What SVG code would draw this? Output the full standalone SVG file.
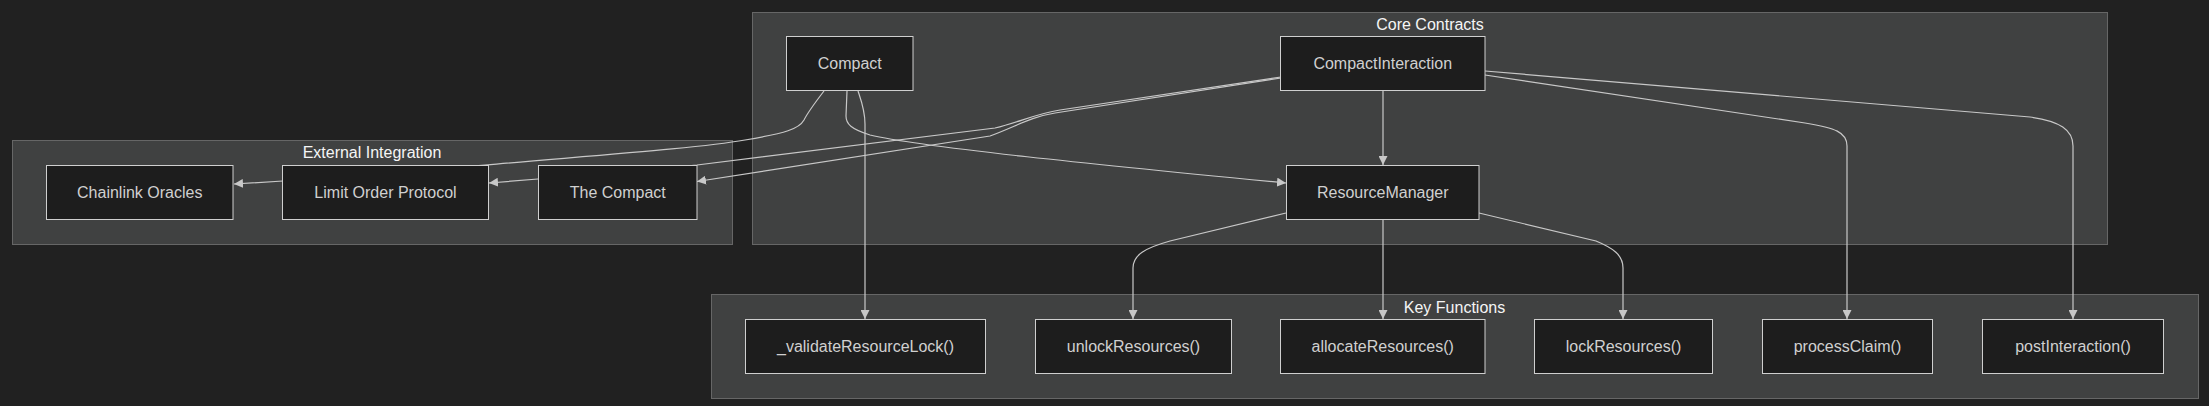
<svg xmlns="http://www.w3.org/2000/svg" width="2209" height="406" viewBox="0 0 2209 406">
<style>
.cluster{fill:#404141;stroke:#666;stroke-width:1}
.ctitle{fill:#f5f5f5;font-family:"Liberation Sans",Arial,sans-serif;font-size:16px;text-anchor:middle}
.node rect{fill:#1d1d1d;stroke:#cfcfcf;stroke-width:1}
.node text{fill:#d0d0d0;font-family:"Liberation Sans",Arial,sans-serif;font-size:16px;text-anchor:middle}
.edge{fill:none;stroke:#c8c8c8;stroke-width:1.2;marker-end:url(#arrow)}
</style>
<defs>
<marker id="arrow" viewBox="0 0 10 10" refX="10" refY="5" markerWidth="9" markerHeight="9" markerUnits="userSpaceOnUse" orient="auto">
<path d="M0,0 L10,5 L0,10 z" fill="#c8c8c8"/>
</marker>
</defs>
<rect x="0" y="0" width="2209" height="406" fill="#212121"/>
<g id="clusters">
<g id="cluster-external"><rect class="cluster" x="12.5" y="140.5" width="720" height="104"/><text class="ctitle" x="372" y="158">External Integration</text></g>
<g id="cluster-core"><rect class="cluster" x="752.5" y="12.5" width="1355" height="232"/><text class="ctitle" x="1430" y="30">Core Contracts</text></g>
<g id="cluster-key"><rect class="cluster" x="711.5" y="294.5" width="1487" height="104"/><text class="ctitle" x="1454.5" y="312.5">Key Functions</text></g>
</g>
<g id="connectors">
<path class="edge" d="M824,91 C814,104 808,112 804,120 C799,129 786,133 745,140 C700,148 600,155 485,165 L283,181 L234,184"/>
<path class="edge" d="M858,91 C861,100 865,110 865,124 L865,319"/>
<path class="edge" d="M847,91 L846,116 C846,124 851,129 870,135 C920,147 1100,165 1286,183"/>
<path class="edge" d="M1281,77 L1060,110 C1035,114 1020,122 995,128 L697,165 L538,179 L489,183"/>
<path class="edge" d="M1281,78 L1055,113 C1030,117 1015,127 990,136 L697,181.5"/>
<path class="edge" d="M1383,91 L1383,165"/>
<path class="edge" d="M1485,75 L1805,123 C1835,128 1847,132 1847,146 L1847,319"/>
<path class="edge" d="M1485,71 L2030,117 C2060,121 2073,130 2073,146 L2073,319"/>
<path class="edge" d="M1286,213 L1170,241 C1145,248 1133,255 1133,268 L1133,319"/>
<path class="edge" d="M1383,219 L1383,319"/>
<path class="edge" d="M1479,213 L1596,241 C1613,248 1623,255 1623,268 L1623,319"/>
</g>
<g id="node-chainlink" class="node"><rect x="46.5" y="165.5" width="186.5" height="54"/><text x="139.75" y="198">Chainlink Oracles</text></g>
<g id="node-limit" class="node"><rect x="282.5" y="165.5" width="206" height="54"/><text x="385.5" y="198">Limit Order Protocol</text></g>
<g id="node-thecompact" class="node"><rect x="538.5" y="165.5" width="158.5" height="54"/><text x="617.75" y="198">The Compact</text></g>
<g id="node-compact" class="node"><rect x="786.5" y="36.5" width="126.5" height="54"/><text x="849.75" y="69">Compact</text></g>
<g id="node-compactinteraction" class="node"><rect x="1280.5" y="36.5" width="204.5" height="54"/><text x="1382.75" y="69">CompactInteraction</text></g>
<g id="node-resourcemanager" class="node"><rect x="1286.5" y="165.5" width="192.5" height="54"/><text x="1382.75" y="198">ResourceManager</text></g>
<g id="node-validate" class="node"><rect x="745.5" y="319.5" width="240" height="54"/><text x="865.5" y="352">_validateResourceLock()</text></g>
<g id="node-unlock" class="node"><rect x="1035.5" y="319.5" width="196" height="54"/><text x="1133.5" y="352">unlockResources()</text></g>
<g id="node-allocate" class="node"><rect x="1280.5" y="319.5" width="204.5" height="54"/><text x="1382.75" y="352">allocateResources()</text></g>
<g id="node-lock" class="node"><rect x="1534.5" y="319.5" width="178" height="54"/><text x="1623.5" y="352">lockResources()</text></g>
<g id="node-processclaim" class="node"><rect x="1762.5" y="319.5" width="170" height="54"/><text x="1847.5" y="352">processClaim()</text></g>
<g id="node-postinteraction" class="node"><rect x="1982.5" y="319.5" width="181" height="54"/><text x="2073" y="352">postInteraction()</text></g>
</svg>
